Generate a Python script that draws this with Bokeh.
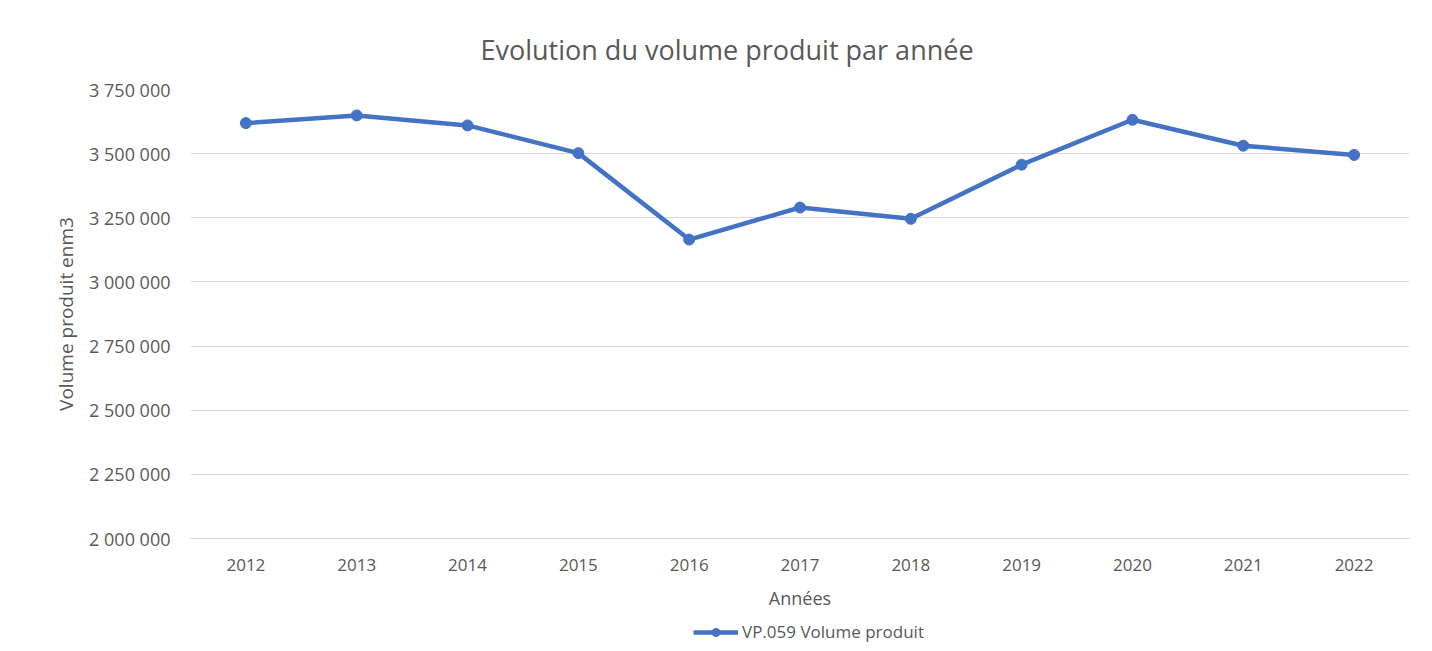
from bokeh.plotting import figure
from bokeh.layouts import column
from bokeh.models import (FactorRange, Range1d, FixedTicker, CustomJSTickFormatter,
                          Legend, LegendItem, ColumnDataSource)
from bokeh.embed import file_html
from bokeh.resources import INLINE

# ---- data ----
years = ["2012", "2013", "2014", "2015", "2016", "2017", "2018", "2019", "2020", "2021", "2022"]
volume = [3619000, 3649000, 3610000, 3502000, 3165000, 3290000, 3246000, 3457000, 3632000, 3531000, 3495000]
y_ticks = [2000000, 2250000, 2500000, 2750000, 3000000, 3250000, 3500000, 3750000]
title_text = "Evolution du volume produit par année"
x_label = "Années"
y_label = "Volume produit enm3"
series_name = "VP.059 Volume produit"

FONT = "Open Sans"
TXT = "#595959"
GRID = "#d9d9d9"
BLUE = "#4472C4"

src = ColumnDataSource(dict(x=years, y=volume))

p = figure(width=1422, height=612, output_backend="svg", toolbar_location=None,
           x_range=FactorRange(*years, range_padding=0),
           y_range=Range1d(y_ticks[0], y_ticks[-1]),
           min_border_left=190, min_border_right=13, min_border_top=89, min_border_bottom=73)

p.title.text = title_text
p.title.align = "left"
p.title.offset = 290
p.title.standoff = 43
p.title.text_font = FONT
p.title.text_font_size = "27px"
p.title.text_font_style = "normal"
p.title.text_color = TXT

p.outline_line_color = None
p.xgrid.grid_line_color = None
p.ygrid.grid_line_color = GRID
p.ygrid.grid_line_width = 1

p.yaxis.ticker = FixedTicker(ticks=y_ticks)
p.yaxis.formatter = CustomJSTickFormatter(code="""
return Math.round(tick).toString().replace(/\\B(?=(\\d{3})+(?!\\d))/g, " ");
""")
p.yaxis.axis_line_color = None
p.yaxis.major_tick_line_color = None
p.yaxis.minor_tick_line_color = None
p.yaxis.major_label_standoff = 14
p.yaxis.axis_label = y_label
p.yaxis.axis_label_standoff = 7

p.xaxis.axis_line_color = GRID
p.xaxis.major_tick_line_color = None
p.xaxis.minor_tick_line_color = None
p.xaxis.major_label_standoff = 14
p.xaxis.axis_label = x_label
p.xaxis.axis_label_standoff = 12

for ax, lab_size, title_size in ((p.xaxis[0], "17px", "18px"), (p.yaxis[0], "18px", "19px")):
    ax.major_label_text_font = FONT
    ax.major_label_text_font_size = lab_size
    ax.major_label_text_color = TXT
    ax.axis_label_text_font = FONT
    ax.axis_label_text_font_size = title_size
    ax.axis_label_text_font_style = "normal"
    ax.axis_label_text_color = TXT

p.line("x", "y", source=src, line_color=BLUE, line_width=4.5, line_join="round")
p.scatter("x", "y", source=src, size=11, fill_color=BLUE, line_color=BLUE)

# legend strip below the chart (its sample glyph renderers sit outside the visible range)
p2 = figure(width=1422, height=38, output_backend="svg", toolbar_location=None,
            x_range=Range1d(0, 1), y_range=Range1d(0, 1),
            min_border_left=190, min_border_right=13, min_border_top=0, min_border_bottom=0)
p2.axis.visible = False
p2.grid.visible = False
p2.outline_line_color = None
lr = p2.line(x=[5, 6], y=[5, 6], line_color=BLUE, line_width=4.5)
sr = p2.scatter(x=[5], y=[5], size=14, fill_color=BLUE, line_color=BLUE)
legend = Legend(items=[LegendItem(label=series_name, renderers=[lr, sr])],
                location=(503, 7), orientation="horizontal",
                border_line_color=None, background_fill_alpha=0,
                glyph_width=45, glyph_height=20, label_standoff=4,
                label_text_font=FONT, label_text_font_size="17px", label_text_color=TXT,
                padding=0, margin=0)
p2.add_layout(legend, "center")

open("out.html", "w").write(file_html(column(p, p2, spacing=0), INLINE))
